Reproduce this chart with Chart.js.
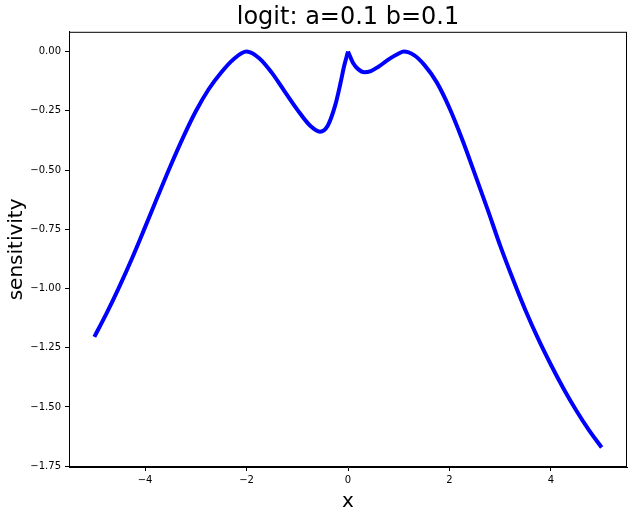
<!DOCTYPE html>
<html>
<head>
<meta charset="utf-8">
<script src="https://cdn.jsdelivr.net/npm/chart.js@4/dist/chart.umd.min.js"></script>
<style>
  html, body { margin: 0; padding: 0; background: #fff; }
  #wrap { width: 633px; height: 514px; }
</style>
</head>
<body>
<div id="wrap"><canvas id="myChart" width="633" height="514"></canvas></div>
<script>
// values
const xValues = [-5.0, -4.75, -4.5, -4.25, -4.0, -3.75, -3.5, -3.25, -3.0, -2.75, -2.5, -2.25, -2.0,
  -1.75, -1.5, -1.25, -1.0, -0.75, -0.55, -0.4, -0.25, -0.15, -0.075, 0.0,
  0.1, 0.2, 0.32, 0.45, 0.6, 0.8, 1.0, 1.1, 1.3, 1.5, 1.75, 2.0, 2.25, 2.5, 2.75,
  3.0, 3.25, 3.5, 3.75, 4.0, 4.25, 4.5, 4.75, 5.0];
const sensitivity = [-1.204, -1.101, -0.989, -0.869, -0.741, -0.611, -0.483, -0.362, -0.252, -0.160, -0.088, -0.031, 0.0,
  -0.028, -0.09, -0.168, -0.245, -0.312, -0.338, -0.313, -0.225, -0.135, -0.06, 0.0,
  -0.048, -0.074, -0.087, -0.082, -0.064, -0.033, -0.008, 0.0, -0.015, -0.055, -0.13, -0.238, -0.37, -0.516, -0.665,
  -0.819, -0.96, -1.093, -1.213, -1.322, -1.423, -1.515, -1.598, -1.671];
const xTicks = [-4, -2, 0, 2, 4];
const yTicks = [-1.75, -1.5, -1.25, -1.0, -0.75, -0.5, -0.25, 0.0];

const points = xValues.map((x, i) => ({x: x, y: sensitivity[i]}));
// the curve has a sharp corner at x=0, so draw it as two pieces
const cusp = xValues.indexOf(0);
const font = "'DejaVu Sans', sans-serif";

// box around the plot like matplotlib spines
const frame = {
  id: 'frame',
  afterDraw(chart) {
    const a = chart.chartArea;
    const c = chart.ctx;
    c.save();
    c.strokeStyle = '#000';
    c.lineWidth = 1;
    c.strokeRect(a.left + 0.5, a.top + 0.5, a.right - a.left - 1, a.bottom - a.top - 1);
    c.restore();
  }
};

function minus(v, d) {
  const s = Math.abs(v).toFixed(d);
  return v < 0 ? '\u2212' + s : s;
}

function piece(data) {
  return {
    data: data,
    borderColor: '#0000ff',
    borderWidth: 4,
    borderJoinStyle: 'miter',
    pointRadius: 0,
    fill: false,
    cubicInterpolationMode: 'monotone'
  };
}

const ctx = document.getElementById('myChart').getContext('2d');
const myChart = new Chart(ctx, {
  type: 'line',
  data: {
    datasets: [piece(points.slice(0, cusp + 1)), piece(points.slice(cusp))]
  },
  options: {
    responsive: false,
    animation: false,
    layout: { padding: { left: 0, right: 6, top: 0, bottom: 0 } },
    plugins: {
      legend: { display: false },
      tooltip: { enabled: false },
      title: {
        display: true,
        text: 'logit: a=0.1 b=0.1',
        fullSize: false,
        color: '#000',
        font: { family: font, size: 24, weight: 'normal', lineHeight: 1.2 },
        padding: { top: 3, bottom: 0 }
      }
    },
    scales: {
      x: {
        type: 'linear',
        min: -5.5,
        max: 5.5,
        afterBuildTicks(s) { s.ticks = xTicks.map(v => ({value: v})); },
        afterFit(s) { s.height = 47; },
        ticks: {
          color: '#000',
          font: { family: font, size: 10 },
          padding: 3,
          maxRotation: 0,
          callback: v => minus(v, 0)
        },
        grid: { drawOnChartArea: false, drawTicks: true, tickLength: 4, color: '#000' },
        border: { display: true, color: '#000' },
        title: {
          display: true,
          text: 'x',
          color: '#000',
          font: { family: font, size: 20, lineHeight: 1.2 },
          padding: { top: 5, bottom: 0 }
        }
      },
      y: {
        type: 'linear',
        min: -1.7535,
        max: 0.0835,
        afterBuildTicks(s) { s.ticks = yTicks.map(v => ({value: v})); },
        afterFit(s) { s.width = 69; },
        ticks: {
          color: '#000',
          font: { family: font, size: 10 },
          padding: 4,
          callback: v => minus(v, 2)
        },
        grid: { drawOnChartArea: false, drawTicks: true, tickLength: 4, color: '#000' },
        border: { display: true, color: '#000' },
        title: {
          display: true,
          text: 'sensitivity',
          color: '#000',
          font: { family: font, size: 20, lineHeight: 1.2 },
          padding: { top: 5, bottom: 0 }
        }
      }
    }
  },
  plugins: [frame]
});
</script>
</body>
</html>
